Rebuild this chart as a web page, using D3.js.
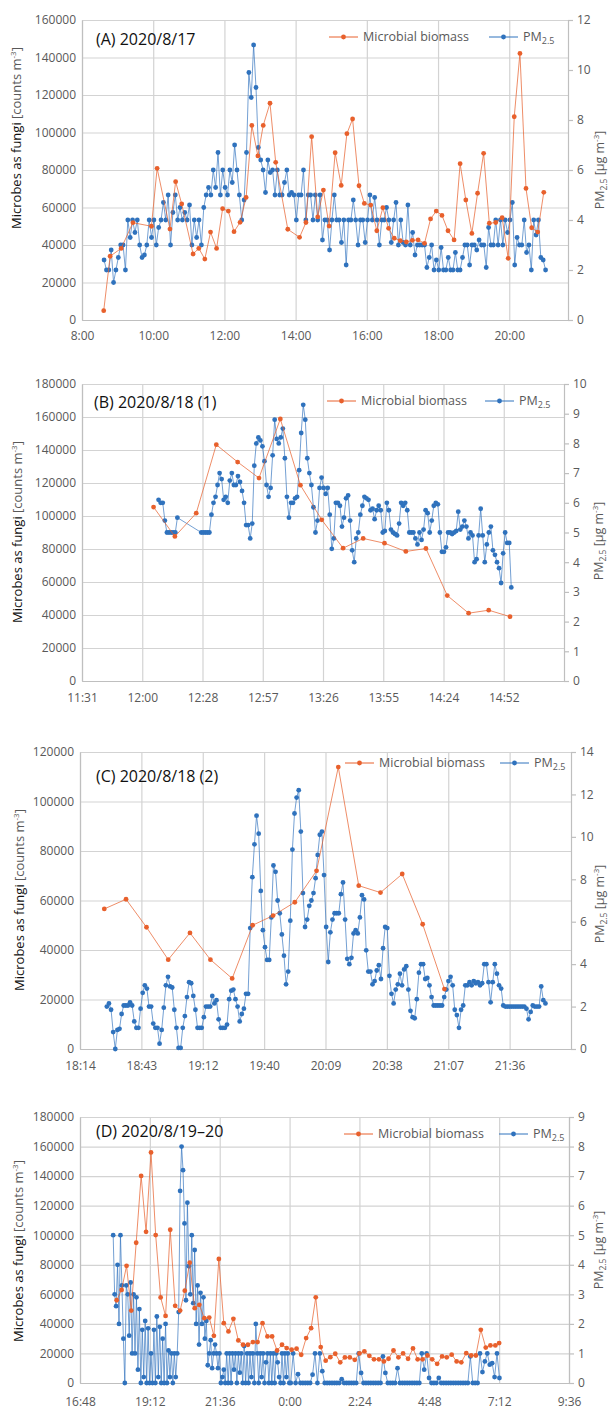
<!DOCTYPE html>
<html>
<head>
<meta charset="utf-8">
<title>Microbes as fungi and PM2.5</title>
<script src="https://cdn.jsdelivr.net/npm/d3@7"></script>
<style>
    body { margin: 0; background: #fff; }
    svg { display: block; }
    text { font-family: "Open Sans", "DejaVu Sans", sans-serif; }
</style>
</head>
<body>
<svg id="chart" width="612" height="1409"></svg>
<script>
/*jslint browser: true, white: true, vars: true */
/*global d3 */

// x ticks in hours of day (values above 24 are the next morning) and their printed labels
var ticksHourA = [8, 10, 12, 14, 16, 18, 20];
var labelsHourA = ["8:00", "10:00", "12:00", "14:00", "16:00", "18:00", "20:00"];
var ticksHourB = [11.52, 12.00, 12.48, 12.96, 13.44, 13.92, 14.40, 14.88];
var labelsHourB = ["11:31", "12:00", "12:28", "12:57", "13:26", "13:55", "14:24", "14:52"];
var ticksHourC = [18.24, 18.72, 19.20, 19.68, 20.16, 20.64, 21.12, 21.60];
var labelsHourC = ["18:14", "18:43", "19:12", "19:40", "20:09", "20:38", "21:07", "21:36"];
var ticksHourD = [16.8, 19.2, 21.6, 24.0, 26.4, 28.8, 31.2, 33.6];
var labelsHourD = ["16:48", "19:12", "21:36", "0:00", "2:24", "4:48", "7:12", "9:36"];

// left axis (counts m-3) and right axis (PM2.5) ticks
var ticksCountA = [0, 20000, 40000, 60000, 80000, 100000, 120000, 140000, 160000];
var ticksCountB = [0, 20000, 40000, 60000, 80000, 100000, 120000, 140000, 160000, 180000];
var ticksCountC = [0, 20000, 40000, 60000, 80000, 100000, 120000];
var ticksCountD = [0, 20000, 40000, 60000, 80000, 100000, 120000, 140000, 160000, 180000];
var ticksPmA = [0, 2, 4, 6, 8, 10, 12];
var ticksPmB = [0, 1, 2, 3, 4, 5, 6, 7, 8, 9, 10];
var ticksPmC = [0, 2, 4, 6, 8, 10, 12, 14];
var ticksPmD = [0, 1, 2, 3, 4, 5, 6, 7, 8, 9];

// microbial biomass: [hour, counts m-3]
var biomassA = [[8.61,5000],[8.79,34000],[9.10,38200],[9.43,51900],[9.95,50000],[10.11,80900],[10.47,48500],
    [10.63,73800],[10.80,61900],[11.12,35200],[11.28,38200],[11.45,32500],[11.61,46900],[11.78,38200],
    [11.95,59400],[12.11,58100],[12.27,47100],[12.44,52100],[12.61,65400],[12.77,103800],[12.94,87500],
    [13.09,103800],[13.28,115600],[13.44,84100],[13.78,48400],[14.11,44100],[14.29,52000],[14.45,97800],
    [14.62,55000],[14.78,69300],[14.94,50100],[15.11,89200],[15.28,71800],[15.44,99400],[15.60,107200],
    [15.78,71600],[15.93,62200],[16.11,61300],[16.28,47600],[16.45,59900],[16.61,48900],[16.77,43600],
    [16.94,42300],[17.11,41600],[17.28,42500],[17.44,42700],[17.62,40900],[17.79,53900],[17.95,58100],
    [18.11,55800],[18.28,47600],[18.45,42700],[18.62,83400],[18.78,64000],[18.95,46200],[19.11,67600],
    [19.28,88900],[19.44,51600],[19.62,52000],[19.80,54600],[19.97,32900],[20.14,108400],[20.30,142200],
    [20.47,70200],[20.63,49200],[20.80,46900],[20.97,68100]];
var biomassB = [[12.09,105400],[12.26,87600],[12.43,101700],[12.59,143200],[12.76,132700],[12.93,123000],
    [13.10,158800],[13.26,118700],[13.43,97700],[13.60,80500],[13.76,86400],[13.93,83500],[14.10,78500],
    [14.26,80300],[14.43,51800],[14.60,41100],[14.76,42900],[14.93,39000]];
var biomassC = [[18.43,56600],[18.60,60500],[18.76,49200],[18.93,36100],[19.10,46900],[19.26,36100],
    [19.43,28500],[19.59,50000],[19.75,53900],[19.92,59300],[20.09,72000],[20.26,113900],[20.42,66000],
    [20.59,63200],[20.76,70700],[20.92,50400],[21.09,24200]];
var biomassD = [[18.06,56000],[18.23,63000],[18.40,79300],[18.56,49000],[18.73,94900],[18.90,140100],
    [19.07,102300],[19.24,156000],[19.40,100100],[19.57,57900],[19.74,45400],[19.90,103700],[20.07,52200],
    [20.24,49000],[20.40,62500],[20.57,81400],[20.74,50600],[20.90,52900],[21.07,43900],[21.24,44300],
    [21.40,31900],[21.57,83900],[21.74,40500],[21.90,34900],[22.07,43400],[22.24,28800],[22.40,25900],
    [22.57,25900],[22.74,27700],[22.90,27700],[23.07,40500],[23.24,31500],[23.40,31500],[23.57,22000],
    [23.74,25900],[23.90,23600],[24.07,22500],[24.24,23200],[24.40,19100],[24.57,30400],[24.74,37100],
    [24.90,58000],[25.07,24300],[25.24,15100],[25.40,17500],[25.57,19800],[25.74,14000],[25.90,17300],
    [26.07,17300],[26.24,15700],[26.40,20000],[26.57,21400],[26.74,18400],[26.90,16000],[27.07,16000],
    [27.24,14600],[27.40,16400],[27.57,22000],[27.74,17400],[27.90,20000],[28.07,16400],[28.24,23400],
    [28.40,16000],[28.57,16000],[28.74,18600],[28.90,16000],[29.07,13000],[29.24,18000],[29.40,17400],
    [29.57,19200],[29.74,14600],[29.90,14000],[30.07,20200],[30.24,18600],[30.40,18600],[30.57,36000],
    [30.74,24000],[30.90,25400],[31.07,25400],[31.20,27000]];

// PM2.5 logger readings (ug m-3), evenly spaced between the first and last time of each run
var pmA = [2.4,2.0,2.0,2.8,1.5,2.0,2.5,3.0,3.0,2.0,4.0,3.3,4.0,3.5,4.0,
    3.0,2.5,2.6,3.0,4.0,3.3,4.0,3.0,3.7,4.0,4.7,4.0,5.0,3.0,4.3,
    5.0,4.0,4.5,4.0,4.3,4.0,4.6,3.0,4.0,3.3,4.0,3.0,4.5,5.0,5.3,
    5.0,6.0,5.3,6.7,5.0,6.0,5.3,5.0,6.0,5.5,7.0,6.0,5.0,4.0,4.8,
    6.7,9.9,8.9,11.0,9.3,6.9,6.4,6.0,5.1,6.4,5.9,6.0,5.0,6.0,5.0,
    5.0,5.5,6.0,5.0,5.1,5.0,4.0,5.0,5.0,6.0,4.0,5.0,5.0,4.0,5.0,
    4.0,5.0,3.2,4.0,4.0,2.8,4.0,5.0,4.0,4.0,3.1,4.0,2.2,4.0,4.0,
    4.8,4.0,3.0,4.0,4.0,3.1,4.0,5.0,4.0,4.9,4.0,3.0,4.0,4.0,4.5,
    4.0,3.1,4.0,4.7,3.0,4.0,3.1,3.0,4.6,3.0,3.5,2.6,3.0,3.0,3.0,
    3.0,2.1,2.5,3.0,2.0,2.4,2.0,2.9,2.0,2.0,2.5,2.0,2.0,2.7,2.0,
    2.0,2.5,3.0,3.0,2.2,3.0,3.0,2.8,3.2,3.0,3.0,2.1,3.7,3.0,3.0,
    4.0,3.0,4.0,3.0,4.0,3.5,4.0,4.7,2.2,3.3,3.0,3.0,4.0,2.7,3.0,
    2.0,4.0,3.4,4.0,2.5,2.4,2.0];
var pmB1 = [6.1,6.0,6.0,5.4,5.0,5.0,5.0,5.0,5.0,5.5];
var pmB2 = [5.0,5.0,5.0,5.0,5.0,5.6,6.0,6.2,6.6,7.0,6.8,6.1,6.2,6.0,6.75,7.0,6.6,6.6,6.9,6.7,
    6.4,6.0,5.25,5.25,4.8,5.3,7.25,8.0,8.2,8.1,7.9,7.4,6.6,6.2,6.5,7.6,8.8,8.15,8.0,8.2,
    8.5,7.5,6.2,5.5,6.0,6.0,6.15,6.2,7.1,8.35,9.3,8.8,7.5,7.0,
    6.6,5.85,5.0,5.4,6.5,6.85,6.5,6.3,6.5,5.6,4.45,4.8,6.0,6.0,5.9,5.2,5.5,6.15,6.25,5.4,
    4.4,4.0,4.8,5.0,5.6,5.9,6.2,6.15,6.1,5.75,5.8,5.45,5.75,5.9,5.75,5.0,5.05,6.0,5.75,5.1,
    5.0,4.95,4.9,5.3,6.0,5.9,6.0,5.75,5.0,5.0,5.0,4.8,4.6,5.0,4.75,5.1,5.75,5.65,5.0,5.4,
    5.9,6.0,5.95,5.0,4.35,4.35,4.5,5.0,5.0,4.95,5.0,5.05,5.7,5.1,5.2,5.4,5.2,4.8,5.0,4.9,
    4.0,4.1,4.9,5.8,4.9,4.0,4.6,5.0,5.2,4.4,4.25,4.0,3.8,3.3,4.3,5.0,4.65,4.65,3.15];
var pmC = [2.0,2.15,1.85,0.8,0,0.9,0.95,1.65,2.05,2.05,2.05,2.2,2.05,1.3,1.0,1.0,1.9,2.65,3.0,2.85,
    2.0,2.0,1.2,1.0,1.0,0.25,0.9,1.95,3.0,3.4,2.95,2.9,1.85,1.0,0.05,0.05,1.0,1.55,2.45,3.15,
    3.1,2.5,1.85,1.0,1.0,1.0,1.5,2.0,2.0,2.0,2.5,2.15,2.3,1.4,1.0,1.0,1.0,1.15,2.35,2.75,
    2.8,2.35,2.0,1.3,1.65,1.9,2.6,2.6,5.7,8.1,9.65,11.0,10.15,7.45,5.6,4.8,4.2,4.2,6.2,8.65,
    8.35,7.0,6.4,5.4,4.4,3.05,3.65,6.05,9.4,11.1,11.85,12.2,10.25,7.35,5.75,
    6.1,6.75,7.0,7.35,8.05,9.15,10.1,10.25,8.2,5.75,4.1,5.5,6.1,6.4,6.4,6.4,7.3,7.85,6.1,4.25,
    4.0,4.3,5.45,5.6,5.45,6.2,7.25,7.05,4.65,3.65,3.65,3.05,3.2,3.7,3.95,3.3,4.75,5.75,5.7,3.45,
    2.6,2.15,2.8,3.05,3.55,3.0,3.75,3.9,2.8,1.8,1.5,1.45,2.35,3.6,4.0,4.0,3.3,3.35,3.0,2.45,
    2.05,2.05,2.05,2.05,2.05,2.45,2.8,3.2,3.4,3.0,1.85,1.6,1.0,1.85,2.05,3.0,3.0,3.15,3.0,3.2,
    3.1,3.15,3.0,3.1,4.0,4.0,3.15,2.2,3.15,4.0,3.55,3.0,2.85,2.05,2.0,2.0,2.0,2.0,2.0,2.0,
    2.0,2.0,2.0,2.0,1.9,1.4,1.75,2.05,2.0,2.0,2.0,2.95,2.3,2.15];
var pmD1 = [5.0,3.0,2.6,4.0,2.0,5.0,3.3,1.5,0,3.3,
    3.0,1.6,3.4,1.0,3.0,1.0,2.9,0.45,2.5,0,
    1.8,0.2,2.1,0,1.85,0,1.0,0,1.8,0,
    2.25,0.2,1.9,0,1.5,0,2.0,0,1.1,0.2,
    1.0,0,1.0,0.2,1.0,2.4,6.5,8.0,7.2,5.4,
    2.8,6.1,3.95,3.0,5.0,2.7,4.5,2.0,3.3,1.3,
    3.05,2.0,2.9,1.5,2.1,0.6,1.0,1.45,0.5,1.0,
    1.3,1.0,0.5,1.0,0,0.2,0.45,0,1.0,0,
    1.0,0,1.0,0.45,1.0,0,1.0,0.35,1.0,0,
    1.25,0,1.0,0,1.0,0.2,1.0,0,2.0,1.0,
    0,1.0,0.2,1.0,0,0.7,1.0,0,1.0,0,
    1.0,0,1.0,0.7,0.2,0,1.0,0,1.0,0.2,1.0,0];
var pmD2 = [0,1.0,0,0.3,0,0,0,0,0,0.28,
    1.0,0,1.0,0.4,0,0,0,0,0,0,
    0,0.13,0,0,0,0,0,0,1.0,0.34,
    0,0,0,0,0,0,0,0,0.9,0.34,
    0,0,0,0,0.5,0,0,0,0,0,
    0,0,0,0,1.0,0.45,1.0,0.17,0,0,
    0,0.17,0,0,0,0,0,0,0,0,
    0,0,0,0,0.9,0,0,0,1.0,0.37,
    0.73,1.0,0.62,0.67,0.2,1.0,0.17];

(function() {

    "use strict";

    var GRID = "#d3d3d3";
    var AXIS = "#bfbfbf";
    var LABEL = "#595959";
    var ORANGE = "#e8602c";
    var BLUE = "#2f72bd";

    var svg = d3.select("#chart");

    var spread = function(values, from, to) {
        var step = (to - from) / (values.length - 1);
        return values.map(function(v, i) { return [from + i * step, v]; });
    };

    var panels = [
        {name: "(A) 2020/8/17", left: 82, right: 568, top: 20, bottom: 320, xDomain: [8, 21.65],
            xTicks: ticksHourA, xLabels: labelsHourA, leftTicks: ticksCountA, rightTicks: ticksPmA,
            biomass: biomassA, pm: spread(pmA, 8.62, 21.02),
            nameX: 96, nameY: 45, legendX: 363, legendX2: 523, legendY: 37, xPad: 11,
            leftTitle: [16, 138], rightTitle: [600, 170]},
        {name: "(B) 2020/8/18 (1)", left: 82, right: 564, top: 384, bottom: 681, xDomain: [11.52, 15.36],
            xTicks: ticksHourB, xLabels: labelsHourB, leftTicks: ticksCountB, rightTicks: ticksPmB,
            biomass: biomassB, pm: spread(pmB1, 12.13, 12.28).concat(spread(pmB2, 12.47, 14.94)),
            nameX: 94, nameY: 408, legendX: 361, legendX2: 519, legendY: 401, xPad: 12,
            leftTitle: [17, 532], rightTitle: [599, 541]},
        {name: "(C) 2020/8/18 (2)", left: 80, right: 571, top: 752, bottom: 1049, xDomain: [18.24, 22.08],
            xTicks: ticksHourC, xLabels: labelsHourC, leftTicks: ticksCountC, rightTicks: ticksPmC,
            biomass: biomassC, pm: spread(pmC, 18.45, 21.88),
            nameX: 96, nameY: 782, legendX: 379, legendX2: 534, legendY: 763, xPad: 12,
            leftTitle: [19, 900], rightTitle: [600, 904]},
        {name: "(D) 2020/8/19\u201320", left: 80, right: 569, top: 1117, bottom: 1383, xDomain: [16.8, 33.6],
            xTicks: ticksHourD, xLabels: labelsHourD, leftTicks: ticksCountD, rightTicks: ticksPmD,
            biomass: biomassD, pm: spread(pmD1, 17.94, 23.99).concat(spread(pmD2, 24.04, 31.21)),
            nameX: 96, nameY: 1137, legendX: 378, legendX2: 533, legendY: 1134, xPad: 14,
            leftTitle: [18, 1251], rightTitle: [599, 1250]}
    ];

    var styleAxis = function(sel) {
        sel.select(".domain").attr("stroke", AXIS).attr("stroke-width", 1.2);
        sel.selectAll(".tick text").attr("fill", LABEL).style("font-size", "12px");
    };

    var drawPanel = function(p) {
        var width = p.right - p.left;
        var height = p.bottom - p.top;

        var x = d3.scaleLinear().domain(p.xDomain).range([p.left, p.right]);
        var yLeft = d3.scaleLinear().domain([0, d3.max(p.leftTicks)]).range([p.bottom, p.top]);
        var yRight = d3.scaleLinear().domain([0, d3.max(p.rightTicks)]).range([p.bottom, p.top]);

        var g = svg.append("g").attr("class", "panel");

        // gridlines
        var gridY = g.append("g")
            .attr("transform", "translate(" + p.left + ",0)")
            .call(d3.axisLeft(yLeft).tickValues(p.leftTicks).tickSize(-width).tickFormat(""));
        gridY.select(".domain").remove();
        gridY.selectAll("line").attr("stroke", GRID).attr("stroke-width", 1.2);

        var gridX = g.append("g")
            .attr("transform", "translate(0," + p.bottom + ")")
            .call(d3.axisBottom(x).tickValues(p.xTicks).tickSize(-height).tickFormat(""));
        gridX.select(".domain").remove();
        gridX.selectAll("line").attr("stroke", GRID).attr("stroke-width", 1.2);

        // axes
        g.append("g")
            .attr("transform", "translate(" + p.left + ",0)")
            .call(d3.axisLeft(yLeft).tickValues(p.leftTicks).tickSize(0).tickPadding(6).tickFormat(d3.format("d")))
            .call(styleAxis);

        g.append("g")
            .attr("transform", "translate(0," + p.bottom + ")")
            .call(d3.axisBottom(x).tickValues(p.xTicks).tickSize(0).tickPadding(p.xPad)
                .tickFormat(function(d, i) { return p.xLabels[i]; }))
            .call(styleAxis);

        var axisR = g.append("g")
            .attr("transform", "translate(" + p.right + ",0)")
            .call(d3.axisRight(yRight).tickValues(p.rightTicks).tickSizeInner(5).tickSizeOuter(0).tickPadding(4))
            .call(styleAxis);
        axisR.selectAll(".tick line").attr("stroke", AXIS).attr("stroke-width", 1.2);

        // PM2.5 on the secondary axis
        var pmLine = d3.line()
            .x(function(d) { return x(d[0]); })
            .y(function(d) { return yRight(d[1]); });

        g.append("path")
            .datum(p.pm)
            .attr("fill", "none")
            .attr("stroke", BLUE)
            .attr("stroke-opacity", 0.75)
            .attr("stroke-width", 0.9)
            .attr("d", pmLine);

        g.append("g").selectAll("circle")
            .data(p.pm)
            .enter().append("circle")
            .attr("cx", function(d) { return x(d[0]); })
            .attr("cy", function(d) { return yRight(d[1]); })
            .attr("r", 2.4)
            .attr("fill", BLUE);

        // microbial biomass on the primary axis
        var bioLine = d3.line()
            .x(function(d) { return x(d[0]); })
            .y(function(d) { return yLeft(d[1]); });

        g.append("path")
            .datum(p.biomass)
            .attr("fill", "none")
            .attr("stroke", ORANGE)
            .attr("stroke-opacity", 0.8)
            .attr("stroke-width", 0.9)
            .attr("d", bioLine);

        g.append("g").selectAll("circle")
            .data(p.biomass)
            .enter().append("circle")
            .attr("cx", function(d) { return x(d[0]); })
            .attr("cy", function(d) { return yLeft(d[1]); })
            .attr("r", 2.4)
            .attr("fill", ORANGE);

        // panel name
        g.append("text")
            .attr("x", p.nameX)
            .attr("y", p.nameY)
            .attr("fill", "#111")
            .style("font-size", "16px")
            .text(p.name);

        // legend
        var items = [
            {color: ORANGE, x: p.legendX, text: "Microbial biomass"},
            {color: BLUE, x: p.legendX2, text: "PM", sub: "2.5"}
        ];
        items.forEach(function(item) {
            g.append("line")
                .attr("x1", item.x - 34).attr("x2", item.x - 5)
                .attr("y1", p.legendY).attr("y2", p.legendY)
                .attr("stroke", item.color).attr("stroke-width", 1);
            g.append("circle")
                .attr("cx", item.x - 19.5).attr("cy", p.legendY)
                .attr("r", 2.4).attr("fill", item.color);
            var t = g.append("text")
                .attr("x", item.x).attr("y", p.legendY).attr("dy", "0.35em")
                .attr("fill", LABEL)
                .style("font-size", "12.5px")
                .text(item.text);
            if (item.sub) {
                t.append("tspan").attr("dy", 3).style("font-size", "9px").text(item.sub);
            }
        });

        // axis titles
        var lt = g.append("text")
            .attr("transform", "translate(" + p.leftTitle[0] + "," + p.leftTitle[1] + ") rotate(-90)")
            .attr("text-anchor", "middle")
            .attr("dy", "0.35em")
            .style("font-size", "13px");
        lt.append("tspan").attr("fill", "#111").text("Microbes as fungi ");
        lt.append("tspan").attr("fill", LABEL).text("[counts m");
        lt.append("tspan").attr("fill", LABEL).attr("dy", -5).style("font-size", "8px").text("-3");
        lt.append("tspan").attr("fill", LABEL).attr("dy", 5).text("]");

        var rt = g.append("text")
            .attr("transform", "translate(" + p.rightTitle[0] + "," + p.rightTitle[1] + ") rotate(-90)")
            .attr("text-anchor", "middle")
            .attr("dy", "0.35em")
            .attr("fill", LABEL)
            .style("font-size", "12.5px");
        rt.append("tspan").text("PM");
        rt.append("tspan").attr("dy", 2.5).style("font-size", "8.5px").text("2.5");
        rt.append("tspan").attr("dy", -2.5).text(" [\u00b5g m");
        rt.append("tspan").attr("dy", -5).style("font-size", "8px").text("-3");
        rt.append("tspan").attr("dy", 5).text("]");
    };

    panels.forEach(drawPanel);

}());
</script>
</body>
</html>
